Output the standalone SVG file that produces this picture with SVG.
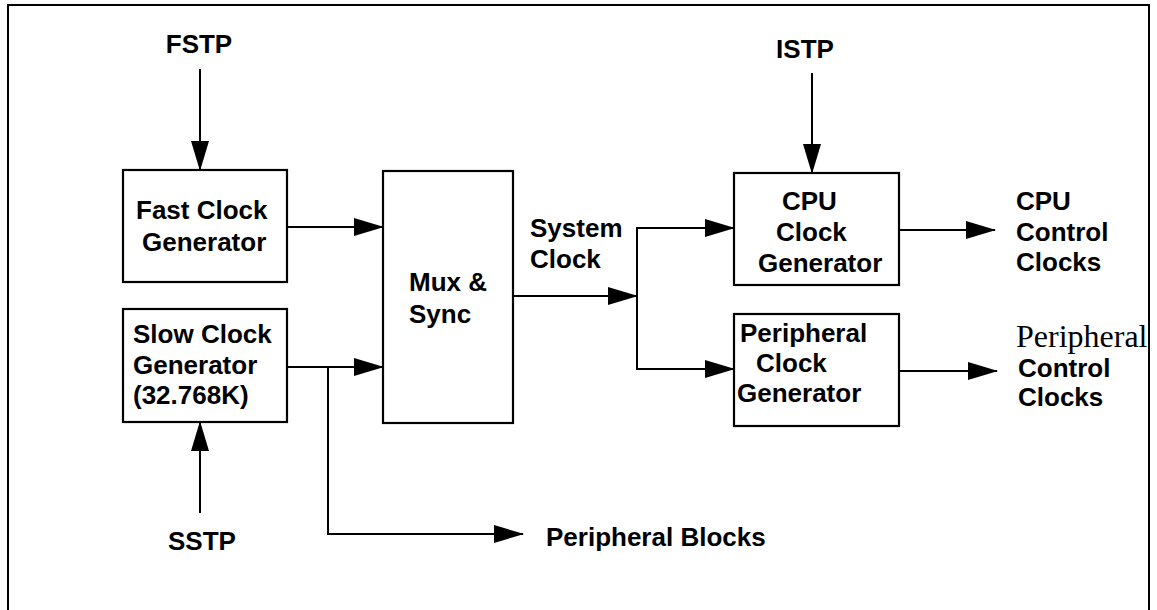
<svg xmlns="http://www.w3.org/2000/svg" width="1157" height="610" viewBox="0 0 1157 610">
<style>
.box{fill:#fff;stroke:#000;stroke-width:2.2}
.ln{fill:none;stroke:#000;stroke-width:2}
.t{font-family:"Liberation Sans",Arial,Helvetica,sans-serif;font-weight:bold;font-size:26px;fill:#000}
.s{font-family:"Liberation Serif","Times New Roman",serif;font-size:32px;fill:#000}
</style>
<defs>
<marker id="ah" markerUnits="userSpaceOnUse" markerWidth="30" markerHeight="18" refX="29" refY="9" orient="auto" viewBox="0 0 30 18">
<path d="M0,0 L30,9 L0,18 z" fill="#000"/>
</marker>
</defs>
<rect width="1157" height="610" fill="#fff"/>
<path class="ln" d="M8,615 V5 H1149 V615" stroke-width="2.5"/>

<g id="connectors">
<line class="ln" x1="200" y1="69" x2="200" y2="170" marker-end="url(#ah)"/>
<line class="ln" x1="287" y1="227" x2="383" y2="227" marker-end="url(#ah)"/>
<line class="ln" x1="287" y1="367" x2="383" y2="367" marker-end="url(#ah)"/>
<path class="ln" d="M328,367 V534 H523" marker-end="url(#ah)"/>
<line class="ln" x1="200" y1="513" x2="200" y2="422" marker-end="url(#ah)"/>
<line class="ln" x1="513" y1="296" x2="637" y2="296" marker-end="url(#ah)"/>
<path class="ln" d="M636,228 H734"  marker-end="url(#ah)"/>
<path class="ln" d="M637,228 V369 H734" marker-end="url(#ah)"/>
<line class="ln" x1="812" y1="73" x2="812" y2="173" marker-end="url(#ah)"/>
<line class="ln" x1="899" y1="230" x2="995" y2="230" marker-end="url(#ah)"/>
<line class="ln" x1="899" y1="371" x2="997" y2="371" marker-end="url(#ah)"/>
</g>

<g id="fstp"><text class="t" x="199" y="53" text-anchor="middle">FSTP</text></g>
<g id="sstp"><text class="t" x="202" y="550" text-anchor="middle">SSTP</text></g>
<g id="istp"><text class="t" x="805" y="58" text-anchor="middle">ISTP</text></g>

<g id="fast">
<rect class="box" x="123" y="170" width="164" height="112"/>
<text class="t" x="136" y="219">Fast Clock</text>
<text class="t" x="142" y="251">Generator</text>
</g>

<g id="slow">
<rect class="box" x="123" y="309" width="164" height="113"/>
<text class="t" x="133" y="343">Slow Clock</text>
<text class="t" x="133" y="374">Generator</text>
<text class="t" x="133" y="404">(32.768K)</text>
</g>

<g id="mux">
<rect class="box" x="383" y="171" width="130" height="252"/>
<text class="t" x="409" y="291">Mux &amp;</text>
<text class="t" x="409" y="323">Sync</text>
</g>

<g id="sysclk">
<text class="t" x="530" y="237">System</text>
<text class="t" x="530" y="268">Clock</text>
</g>

<g id="cpu">
<rect class="box" x="734" y="173" width="165" height="112"/>
<text class="t" x="782" y="210">CPU</text>
<text class="t" x="776" y="241">Clock</text>
<text class="t" x="758" y="272">Generator</text>
</g>

<g id="periph">
<rect class="box" x="734" y="314" width="165" height="112"/>
<text class="t" x="740" y="342">Peripheral</text>
<text class="t" x="756" y="372">Clock</text>
<text class="t" x="737" y="402">Generator</text>
</g>

<g id="cpuout">
<text class="t" x="1016" y="210">CPU</text>
<text class="t" x="1016" y="241">Control</text>
<text class="t" x="1016" y="271">Clocks</text>
</g>

<g id="periphout">
<text class="s" x="1016" y="347">Peripheral</text>
<text class="t" x="1018" y="377">Control</text>
<text class="t" x="1018" y="406">Clocks</text>
</g>

<g id="pblocks"><text class="t" x="546" y="546">Peripheral Blocks</text></g>
</svg>
